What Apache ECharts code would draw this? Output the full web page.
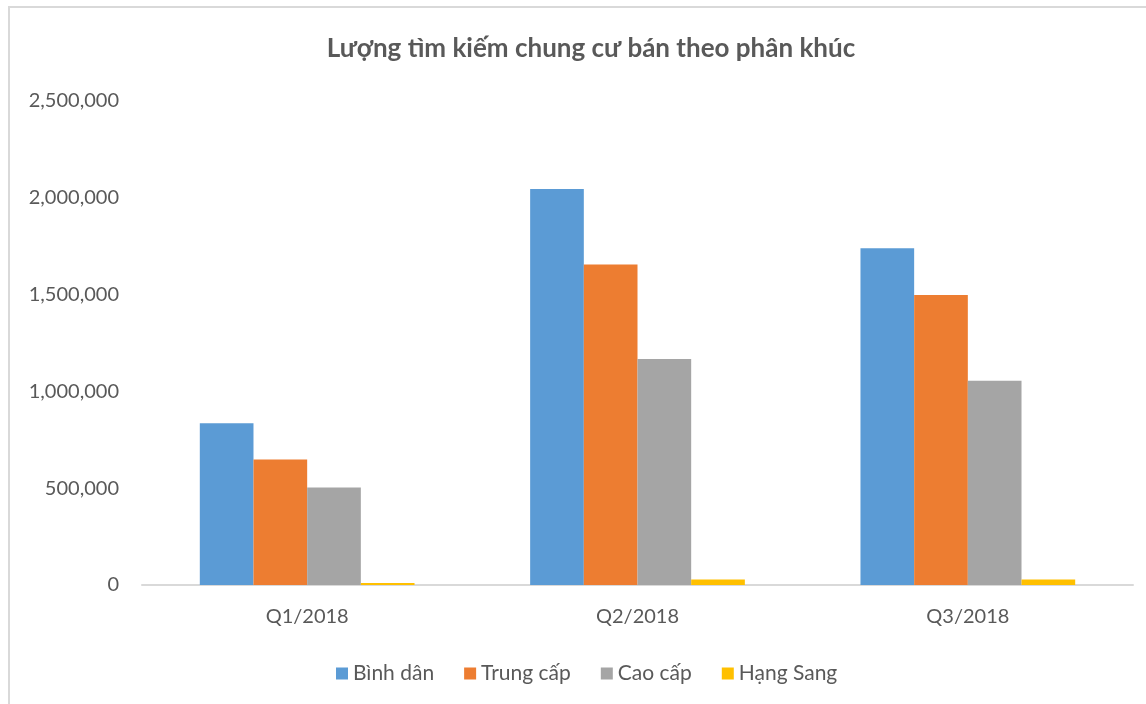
<!DOCTYPE html>
<html>
<head>
<meta charset="utf-8">
<script src="https://cdn.jsdelivr.net/npm/echarts@6/dist/echarts.min.js"></script>
<style>
  html, body { margin: 0; padding: 0; background: #fff; }
  #chart { width: 1146px; height: 704px; }
</style>
</head>
<body>
<div id="chart"></div>
<script>
// Quarterly search volume for apartments for sale, by segment
const quarters = ['Q1/2018', 'Q2/2018', 'Q3/2018'];
const binhDan   = [835000, 2045000, 1740000];
const trungCap  = [648000, 1655000, 1498000];
const caoCap    = [504000, 1168000, 1055000];
const hangSang  = [10000, 29000, 29000];
const yTicks = [0, 500000, 1000000, 1500000, 2000000, 2500000];

const FONT = 'Lato, "Noto Sans", sans-serif';
const TEXT = '#595959';

const chart = echarts.init(document.getElementById('chart'), null, { renderer: 'canvas' });

function bar(name, data, color) {
  return {
    name: name,
    type: 'bar',
    data: data,
    barGap: '0%',
    barCategoryGap: '35%',
    itemStyle: { color: color },
    emphasis: { disabled: true }
  };
}

chart.setOption({
  animation: false,
  backgroundColor: '#ffffff',
  title: {
    text: 'Lượng tìm kiếm chung cư bán theo phân khúc',
    left: 586,
    top: 31,
    textAlign: 'center',
    textStyle: { fontFamily: FONT, fontSize: 26, fontWeight: 'bold', color: TEXT }
  },
  graphic: [{
    type: 'polyline',
    shape: { points: [[9, 720], [9, 7], [1160, 7]] },
    style: { stroke: '#d9d9d9', lineWidth: 2, fill: null },
    silent: true
  }],
  legend: {
    data: ['Bình dân', 'Trung cấp', 'Cao cấp', 'Hạng Sang'],
    left: 331,
    top: 658,
    icon: 'rect',
    itemWidth: 12,
    itemHeight: 12,
    itemGap: 30,
    textStyle: { fontFamily: FONT, fontSize: 21, color: TEXT, padding: [0, 0, 0, 0] }
  },
  grid: { left: 142, right: 13, top: 101, bottom: 119, containLabel: false },
  xAxis: {
    type: 'category',
    data: quarters,
    axisLine: { lineStyle: { color: '#d9d9d9', width: 2 } },
    axisTick: { show: false },
    axisLabel: { fontFamily: FONT, fontSize: 20, color: TEXT, margin: 22 }
  },
  yAxis: {
    type: 'value',
    min: yTicks[0],
    max: yTicks[yTicks.length - 1],
    interval: 500000,
    axisLine: { show: false },
    axisTick: { show: false },
    splitLine: { show: false },
    axisLabel: {
      fontFamily: FONT, fontSize: 20, color: TEXT, margin: 23,
      formatter: v => v.toLocaleString('en-US')
    }
  },
  series: [
    bar('Bình dân', binhDan, '#5b9bd5'),
    bar('Trung cấp', trungCap, '#ed7d31'),
    bar('Cao cấp', caoCap, '#a5a5a5'),
    bar('Hạng Sang', hangSang, '#ffc000')
  ]
});
</script>
</body>
</html>
